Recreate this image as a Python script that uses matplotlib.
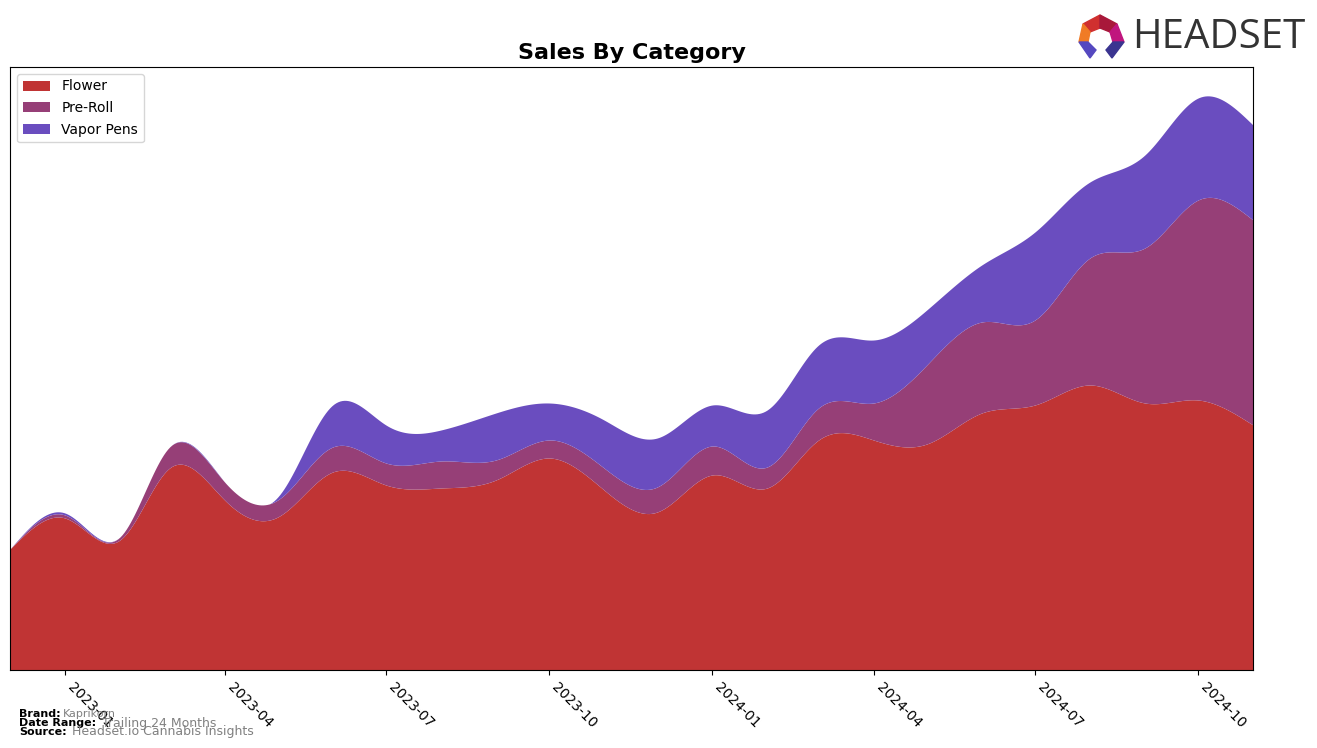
import numpy as np
import pandas as pd
import matplotlib
matplotlib.use("Agg")
import matplotlib.pyplot as plt
import matplotlib.dates as mdates
from matplotlib.patches import Polygon

# monthly sales (arbitrary units)
months = pd.date_range("2022-12-01", "2024-11-01", freq="MS")
flower = [121, 152, 130, 202, 170, 153, 198, 185, 182, 190, 212, 180,
          158, 195, 182, 230, 230, 226, 257, 265, 285, 267, 270, 245]
preroll = [0, 3, 3, 21, 18, 17, 25, 22, 27, 20, 18, 22,
           25, 29, 21, 32, 37, 79, 91, 85, 127, 155, 200, 205]
vapor = [0, 2, 0, 0, 0, 3, 42, 38, 31, 47, 37, 48,
         49, 41, 57, 63, 63, 55, 57, 88, 76, 93, 102, 95]

categories = ["Flower", "Pre-Roll", "Vapor Pens"]
colors = ["#C03434", "#963F77", "#6A4DBF"]


def smooth(x, y, n=600):
    # natural cubic spline through the monthly points
    x = np.asarray(x, float)
    y = np.asarray(y, float)
    k = len(x)
    h = np.diff(x)
    A = np.zeros((k, k))
    b = np.zeros(k)
    A[0, 0] = A[-1, -1] = 1
    for i in range(1, k - 1):
        A[i, i - 1] = h[i - 1]
        A[i, i] = 2 * (h[i - 1] + h[i])
        A[i, i + 1] = h[i]
        b[i] = 3 * ((y[i + 1] - y[i]) / h[i] - (y[i] - y[i - 1]) / h[i - 1])
    c = np.linalg.solve(A, b)
    xs = np.linspace(x[0], x[-1], n)
    idx = np.clip(np.searchsorted(x, xs) - 1, 0, k - 2)
    dx = xs - x[idx]
    bb = (y[idx + 1] - y[idx]) / h[idx] - h[idx] * (2 * c[idx] + c[idx + 1]) / 3
    dd = (c[idx + 1] - c[idx]) / (3 * h[idx])
    ys = y[idx] + bb * dx + c[idx] * dx ** 2 + dd * dx ** 3
    return xs, np.clip(ys, 0, None)


xnum = mdates.date2num(months)
fig = plt.figure(figsize=(13.17, 7.48), dpi=100)
ax = fig.add_axes([10 / 1317, 78 / 748, 1243 / 1317, 603 / 748])

base = np.zeros(600)
for vals, name, col in zip([flower, preroll, vapor], categories, colors):
    xs, ys = smooth(xnum, vals)
    ax.fill_between(xs, base, base + ys, color=col, label=name, linewidth=0)
    base = base + ys

ax.set_xlim(xnum[0], xnum[-1])
ax.set_ylim(0, 603)
ax.set_yticks([])
ax.xaxis.set_major_locator(mdates.MonthLocator(bymonth=[1, 4, 7, 10]))
ax.xaxis.set_major_formatter(mdates.DateFormatter("%Y-%m"))
plt.setp(ax.get_xticklabels(), rotation=-45, ha="left", fontsize=10)
ax.legend(loc="upper left", fontsize=10, labelspacing=0.55)
ax.set_title("Sales By Category", fontsize=16, fontweight="bold")

# footer
fig.text(19 / 1317, 1 - 714 / 748, "Brand:", fontsize=8, fontweight="bold", va="center")
fig.text(63 / 1317, 1 - 714 / 748, "Kaprikorn", fontsize=8, color="gray", va="center")
fig.text(19 / 1317, 1 - 723 / 748, "Date Range:", fontsize=8, fontweight="bold", va="center")
fig.text(102 / 1317, 1 - 723 / 748, "Trailing 24 Months", fontsize=9, color="gray", va="center")
fig.text(19 / 1317, 1 - 732 / 748, "Source:", fontsize=8, fontweight="bold", va="center")
fig.text(72 / 1317, 1 - 732 / 748, "Headset.io Cannabis Insights", fontsize=9, color="gray", va="center")

# logo
def P(pts, c):
    fig.patches.append(Polygon([(px / 1317, 1 - py / 748) for px, py in pts],
                               closed=True, color=c, transform=fig.transFigure))

P([(1083, 24), (1100, 15), (1100, 28), (1090, 32)], "#D0302F")
P([(1100, 15), (1117, 24), (1110, 32), (1100, 28)], "#A8183A")
P([(1117, 24), (1124, 42), (1113, 42), (1110, 32)], "#C0157E")
P([(1083, 24), (1090, 32), (1088, 42), (1079, 42)], "#F07B25")
P([(1079, 42), (1088, 42), (1096, 50), (1090, 58)], "#5548C0")
P([(1124, 42), (1113, 42), (1106, 50), (1112, 58)], "#3A3490")
fig.text(1132 / 1317, 1 - 38 / 748, "HEADSET", fontsize=29, color="#333333",
         va="center", fontfamily="Open Sans", fontweight="medium")

fig.savefig("out.png", dpi=100)
